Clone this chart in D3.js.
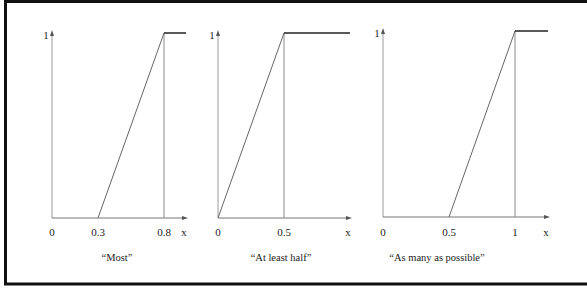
<!DOCTYPE html>
<html>
<head>
<meta charset="utf-8">
<script src="https://cdn.jsdelivr.net/npm/d3@7"></script>
<style>
  body { margin: 0; background: #fff; }
  text { font-family: "Liberation Serif", "DejaVu Serif", serif; fill: #222; }
</style>
</head>
<body>
<svg id="chart" width="587" height="288"></svg>
<script>
// captions and tick labels for the three panels
const captions = ["\u201CMost\u201D", "\u201CAt least half\u201D", "\u201CAs many as possible\u201D"];
const mostTicks = [0, 0.3, 0.8];
const halfTicks = [0, 0.5];
const possibleTicks = [0, 0.5, 1];

// membership functions (x, mu)
const mostX = [0.3, 0.8, 1];
const mostY = [0, 1, 1];
const halfX = [0, 0.5, 1];
const halfY = [0, 1, 1];
const possibleX = [0.5, 1, 1.25];
const possibleY = [0, 1, 1];

// where the guide line drops from the top
const mostPeak = 0.8, halfPeak = 0.5, possiblePeak = 1;

var svg = d3.select("#chart");

// scanned frame
svg.append("rect")
    .attr("x", 5.5).attr("y", 1.5)
    .attr("width", 600).attr("height", 282.5)
    .attr("fill", "none").attr("stroke", "#111").attr("stroke-width", 3);

// layout per panel: x domain/range (schematic axis), baseline, top
var panels = [
    {ticks: mostTicks, xs: mostX, ys: mostY, peak: mostPeak, end: 1,
     dom: [0, 0.3, 0.8, 1], rng: [52, 98, 164, 186], base: 218, top: 33, capX: 117},
    {ticks: halfTicks, xs: halfX, ys: halfY, peak: halfPeak, end: 1,
     dom: [0, 0.5, 1], rng: [218, 284, 350], base: 218, top: 33, capX: 281},
    {ticks: possibleTicks, xs: possibleX, ys: possibleY, peak: possiblePeak, end: 1.25,
     dom: [0, 1, 1.25], rng: [383, 515, 548], base: 217, top: 31, capX: 437}
];

function arrow(g, x, y, dir) {
    // small filled arrowhead, dir 'up' or 'right'
    var p = dir == 'up'
        ? [[x, y - 4], [x - 2, y + 2], [x + 2, y + 2]]
        : [[x + 4, y], [x - 2, y - 2], [x - 2, y + 2]];
    g.append("path").attr("d", d3.line()(p)).attr("fill", "#555");
}

panels.forEach((p, i) => {
    var x = d3.scaleLinear().domain(p.dom).range(p.rng);
    var y = d3.scaleLinear().domain([0, 1]).range([p.base, p.top]);
    var g = svg.append("g");

    // axes
    g.append("line")
        .attr("x1", x(0)).attr("x2", x(0))
        .attr("y1", y(0)).attr("y2", y(1) + 2)
        .attr("stroke", "#9a9a9a").attr("stroke-width", 1);
    arrow(g, x(0), y(1) + 1, 'up');

    g.append("line")
        .attr("x1", x(0)).attr("x2", x(p.end) - 2)
        .attr("y1", y(0)).attr("y2", y(0))
        .attr("stroke", "#777").attr("stroke-width", 1);
    arrow(g, x(p.end) - 2, y(0), 'right');

    // guide line under the peak
    g.append("line")
        .attr("x1", x(p.peak)).attr("x2", x(p.peak))
        .attr("y1", y(0)).attr("y2", y(1))
        .attr("stroke", "#8a8a8a").attr("stroke-width", 1);

    // ramp
    g.append("path")
        .datum(d3.zip(p.xs.slice(0, 2), p.ys.slice(0, 2)))
        .attr("d", d3.line().x(d => x(d[0])).y(d => y(d[1])))
        .attr("fill", "none").attr("stroke", "#666").attr("stroke-width", 1);

    // plateau
    g.append("path")
        .datum(d3.zip(p.xs.slice(1), p.ys.slice(1)))
        .attr("d", d3.line().x(d => x(d[0])).y(d => y(d[1])))
        .attr("fill", "none").attr("stroke", "#222").attr("stroke-width", 1.5);

    // labels
    g.append("text")
        .attr("x", x(0) - 6).attr("y", y(1) + 6)
        .attr("text-anchor", "middle").attr("font-size", 11)
        .text("1");

    g.selectAll(".tick").data(p.ticks).enter().append("text")
        .attr("x", d => x(d)).attr("y", 236)
        .attr("text-anchor", "middle").attr("font-size", 11)
        .text(d => d);

    g.append("text")
        .attr("x", x(p.end) - 2).attr("y", 236)
        .attr("text-anchor", "middle").attr("font-size", 11)
        .text("x");

    g.append("text")
        .attr("x", p.capX).attr("y", 261)
        .attr("text-anchor", "middle").attr("font-size", 10.5)
        .text(captions[i]);
});
</script>
</body>
</html>
